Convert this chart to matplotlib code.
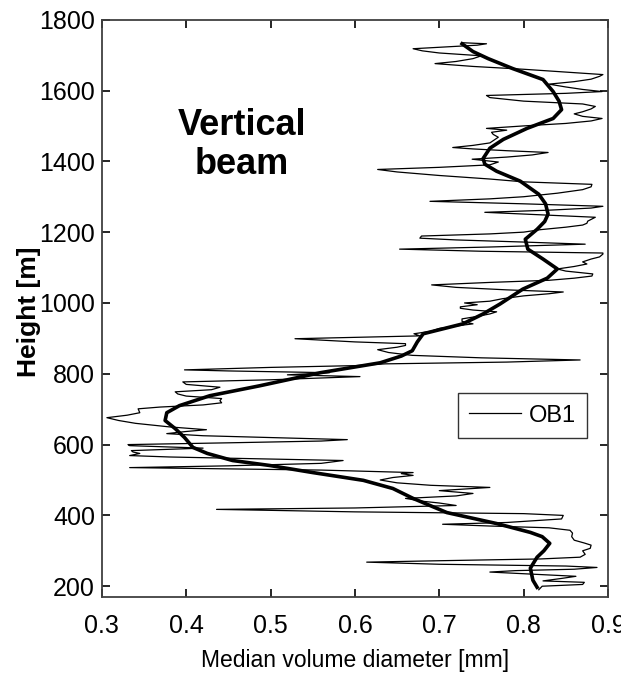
import matplotlib.pyplot as plt
import numpy as np

# noisy OB1 profile: height [m] and median volume diameter [mm]
ob1_height = [190, 200, 205, 211, 215, 222, 228, 233, 240, 244, 248, 253, 257, 262, 268, 272,
              277, 282, 290, 300, 307, 316, 322, 330, 340, 350, 358, 365, 370, 375, 380, 390,
              400, 405, 410, 417, 421, 428, 435, 440, 448, 455, 462, 470, 479, 485, 492, 500,
              507, 513, 518, 521, 528, 535, 540, 547, 555, 560, 565, 569, 575, 579, 583, 590,
              597, 600, 605, 610, 614, 620, 625, 631, 637, 642, 650, 660, 668, 676, 683, 690,
              701, 706, 712, 718, 724, 730, 737, 743, 749, 755, 762, 770, 777, 783, 792, 797,
              803, 808, 811, 818, 823, 828, 833, 839, 845, 852, 860, 868, 875, 880, 885, 890,
              899, 904, 907, 913, 920, 928, 935, 941, 948, 955, 962, 969, 975, 980, 985, 989,
              995, 1000, 1005, 1012, 1020, 1026, 1031, 1037, 1044, 1051, 1058, 1064, 1070, 1076,
              1082, 1090, 1096, 1103, 1110, 1116, 1124, 1130, 1138, 1141, 1146, 1152, 1158, 1166,
              1172, 1178, 1183, 1189, 1195, 1200, 1207, 1214, 1220, 1225, 1231, 1236, 1242, 1249,
              1256, 1262, 1268, 1273, 1280, 1287, 1294, 1300, 1310, 1320, 1328, 1335, 1342, 1350,
              1360, 1370, 1377, 1383, 1390, 1398, 1406, 1412, 1418, 1425, 1430, 1435, 1439, 1445,
              1452, 1460, 1468, 1476, 1482, 1488, 1493, 1500, 1507, 1514, 1521, 1527, 1534, 1540,
              1548, 1555, 1562, 1570, 1580, 1586, 1592, 1597, 1603, 1610, 1618, 1625, 1632, 1640,
              1645, 1652, 1660, 1668, 1676, 1682, 1690, 1698, 1706, 1712, 1718, 1722, 1728, 1732,
              1735]
ob1_mvd = [0.818, 0.822, 0.870, 0.872, 0.823, 0.845, 0.862, 0.820, 0.760, 0.790, 0.860, 0.887,
           0.850, 0.700, 0.614, 0.700, 0.820, 0.867, 0.873, 0.870, 0.879, 0.880, 0.872, 0.860,
           0.857, 0.858, 0.855, 0.830, 0.760, 0.704, 0.780, 0.845, 0.847, 0.800, 0.600, 0.436,
           0.600, 0.720, 0.700, 0.680, 0.660, 0.720, 0.740, 0.700, 0.760, 0.690, 0.650, 0.630,
           0.645, 0.669, 0.655, 0.669, 0.560, 0.333, 0.450, 0.560, 0.586, 0.480, 0.380, 0.333,
           0.345, 0.337, 0.335, 0.420, 0.333, 0.331, 0.450, 0.560, 0.591, 0.500, 0.420, 0.377,
           0.400, 0.424, 0.380, 0.340, 0.320, 0.306, 0.330, 0.345, 0.343, 0.369, 0.420, 0.442,
           0.440, 0.442, 0.400, 0.390, 0.387, 0.430, 0.440, 0.400, 0.396, 0.500, 0.606, 0.520,
           0.570, 0.450, 0.398, 0.500, 0.600, 0.636, 0.780, 0.867, 0.750, 0.668, 0.640, 0.627,
           0.650, 0.660, 0.660, 0.600, 0.529, 0.620, 0.677, 0.670, 0.690, 0.700, 0.720, 0.740,
           0.727, 0.727, 0.745, 0.760, 0.768, 0.740, 0.725, 0.725, 0.745, 0.730, 0.760, 0.775,
           0.800, 0.830, 0.847, 0.780, 0.720, 0.691, 0.760, 0.830, 0.860, 0.881, 0.882, 0.850,
           0.840, 0.860, 0.875, 0.870, 0.880, 0.890, 0.894, 0.894, 0.750, 0.653, 0.760, 0.873,
           0.800, 0.720, 0.677, 0.679, 0.760, 0.800, 0.820, 0.850, 0.870, 0.875, 0.876, 0.880,
           0.885, 0.820, 0.754, 0.830, 0.880, 0.894, 0.800, 0.689, 0.760, 0.800, 0.840, 0.870,
           0.880, 0.881, 0.800, 0.760, 0.700, 0.650, 0.627, 0.700, 0.760, 0.770, 0.739, 0.780,
           0.810, 0.829, 0.780, 0.740, 0.716, 0.740, 0.760, 0.765, 0.770, 0.764, 0.762, 0.780,
           0.756, 0.800, 0.850, 0.880, 0.893, 0.870, 0.860, 0.870, 0.880, 0.885, 0.870, 0.800,
           0.760, 0.756, 0.850, 0.893, 0.870, 0.850, 0.830, 0.860, 0.880, 0.890, 0.894, 0.850,
           0.800, 0.740, 0.695, 0.720, 0.740, 0.750, 0.700, 0.680, 0.669, 0.700, 0.745, 0.756,
           0.727]

# smoothed profile
smooth_height = [197, 217, 251, 282, 300, 321, 340, 352, 377, 408, 448, 476, 499, 521, 541,
                 555, 575, 592, 620, 645, 668, 690, 710, 738, 766, 803, 831, 850, 865, 890,
                 913, 941, 969, 997, 1039, 1070, 1096, 1124, 1152, 1180, 1208, 1230, 1251,
                 1280, 1307, 1344, 1372, 1392, 1408, 1437, 1462, 1493, 1521, 1546, 1570, 1597,
                 1631, 1662, 1690, 1710, 1732]
smooth_mvd = [0.816, 0.811, 0.808, 0.816, 0.824, 0.831, 0.822, 0.808, 0.768, 0.709, 0.669,
              0.645, 0.610, 0.550, 0.499, 0.455, 0.425, 0.408, 0.398, 0.387, 0.375, 0.377,
              0.392, 0.428, 0.487, 0.559, 0.630, 0.655, 0.668, 0.674, 0.681, 0.728, 0.752,
              0.772, 0.799, 0.828, 0.840, 0.823, 0.805, 0.802, 0.816, 0.825, 0.829, 0.826,
              0.818, 0.796, 0.768, 0.754, 0.752, 0.760, 0.776, 0.804, 0.835, 0.845, 0.842,
              0.835, 0.823, 0.787, 0.758, 0.740, 0.727]

sans = ['Liberation Sans', 'DejaVu Sans']

fig = plt.figure(figsize=(6.21, 6.79), dpi=100)
ax = fig.add_axes([0.164, 0.121, 0.815, 0.850])

ax.plot(ob1_mvd, ob1_height, color='black', lw=0.9, label='OB1')
ax.plot(smooth_mvd, smooth_height, color='black', lw=2.6)

ax.set_xlim(0.3, 0.9)
ax.set_ylim(170, 1800)
ax.set_xticks(np.arange(0.3, 0.91, 0.1))
ax.set_yticks(np.arange(200, 1801, 200))
ax.set_xticklabels(['0.3', '0.4', '0.5', '0.6', '0.7', '0.8', '0.9'])
ax.tick_params(direction='in', top=True, right=True, length=6, width=1.2)
ax.tick_params(axis='x', pad=12)
ax.tick_params(axis='y', pad=5)
for lab in ax.get_xticklabels() + ax.get_yticklabels():
    lab.set_family(sans)
    lab.set_fontsize(18)
for sp in ax.spines.values():
    sp.set_color('#404040')
    sp.set_linewidth(1.3)

ax.set_xlabel('Median volume diameter [mm]', family=sans, fontsize=16.5, labelpad=8)
ax.set_ylabel('Height [m]', family=sans, fontsize=19, fontweight='bold')
ax.yaxis.set_label_coords(-0.121, 0.494)

ax.text(0.466, 1445, 'Vertical\nbeam', family=sans, fontsize=26, fontweight='bold',
        ha='center', va='center', linespacing=1.15)

leg = ax.legend(loc='center', bbox_to_anchor=(0.831, 0.314), frameon=True, fancybox=False,
                prop={'family': sans, 'size': 17}, handlelength=2.2, borderpad=0.5,
                handletextpad=0.3, borderaxespad=0)
leg.get_frame().set_edgecolor('black')
leg.get_frame().set_linewidth(1.0)

fig.savefig('out.png', dpi=100)
